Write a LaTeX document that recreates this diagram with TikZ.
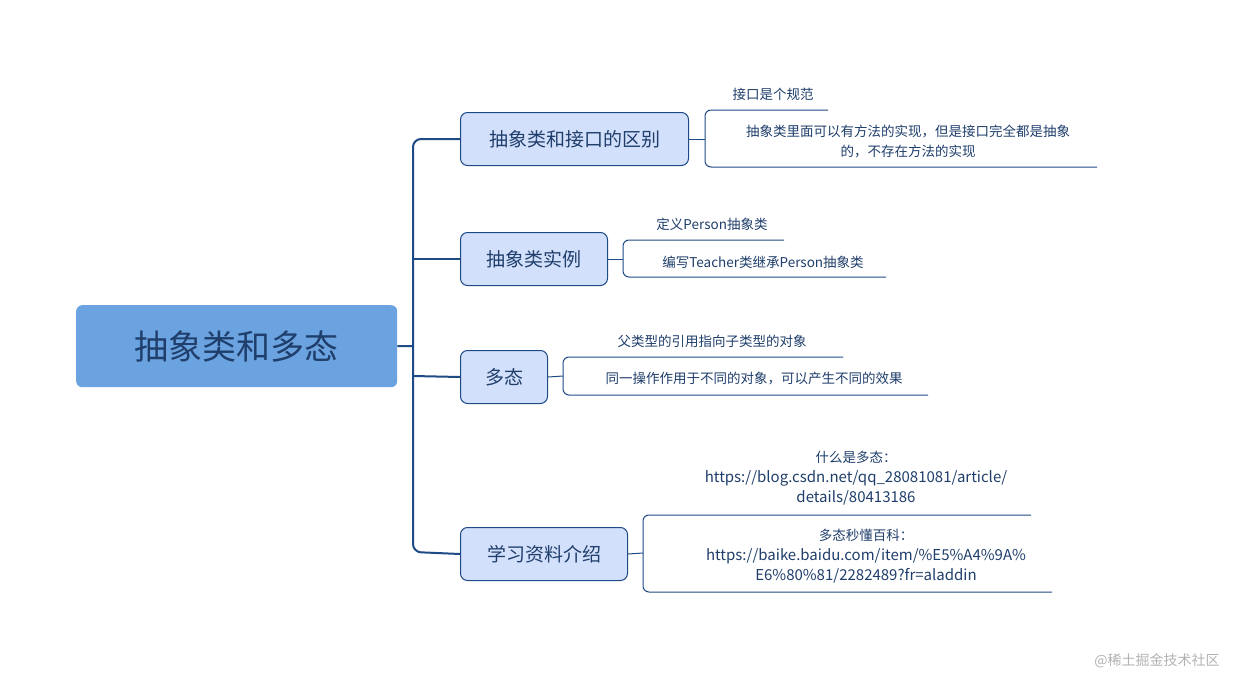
\documentclass[tikz,border=0pt]{standalone}
\usepackage{fontspec}
\setmainfont{Noto Sans CJK SC}
\begin{document}
\begin{tikzpicture}[x=1pt,y=-1pt,
  line/.style={draw=edge,line width=2pt,rounded corners=8pt},
  thin/.style={draw=edge,line width=1pt,rounded corners=6pt},
  topic/.style={draw=edge,line width=1pt,fill=boxfill,rounded corners=7pt,text=txt,font=\fontsize{19}{22}\selectfont,anchor=north west},
  leaf/.style={text=txt,font=\fontsize{13.5}{20}\selectfont,align=center,inner sep=0pt}]
\definecolor{edge}{HTML}{1E4A86}
\definecolor{boxfill}{HTML}{D3E0FB}
\definecolor{txt}{HTML}{1F3E6B}
\definecolor{rootfill}{HTML}{6AA3E0}
\useasboundingbox (0,0) rectangle (1243,677);
\node[fill=rootfill,rounded corners=6pt,minimum width=321pt,minimum height=82pt,anchor=north west,inner sep=0pt,text=txt,font=\fontsize{34}{40}\selectfont] (root) at (76,305) {抽象类和多态};
\node[topic,minimum width=228pt,minimum height=53pt] (b1) at (460,112) {抽象类和接口的区别};
\node[topic,minimum width=147pt,minimum height=53pt] (b2) at (460,232) {抽象类实例};
\node[topic,minimum width=87pt,minimum height=53pt] (b3) at (460,350) {多态};
\node[topic,minimum width=167pt,minimum height=53pt] (b4) at (460,527) {学习资料介绍};
\coordinate (j) at (413,346);
\draw[line] (root.east) -- (j);
\draw[line] (b1.west) -- (413,139) -- (413,552) -- (b4.west);
\draw[line] (413,259) -- (b2.west);
\draw[line] (413,376) -- (b3.west);
% leaves
\node[leaf] (l1) at (773,94) {接口是个规范};
\node[leaf] (l2) at (908,141) {抽象类里面可以有方法的实现，但是接口完全都是抽象\\的，不存在方法的实现};
\node[leaf] (l3) at (712,224) {定义Person抽象类};
\node[leaf] (l4) at (763,262) {编写Teacher类继承Person抽象类};
\node[leaf] (l5) at (712,341) {父类型的引用指向子类型的对象};
\node[leaf] (l6) at (754,379) {同一操作作用于不同的对象，可以产生不同的效果};
\node[leaf,font=\fontsize{15}{20}\selectfont] (l7) at (856,478) {\fontsize{13.5}{20}\selectfont 什么是多态：\\https://blog.csdn.net/qq\_28081081/article/\\details/80413186};
\node[leaf,font=\fontsize{15}{20}\selectfont] (l8) at (866,556) {\fontsize{13.5}{20}\selectfont 多态秒懂百科：\\https://baike.baidu.com/item/\%E5\%A4\%9A\%\\E6\%80\%81/2282489?fr=aladdin};
% brackets
\draw[thin] (b1.east) -- (705,139);
\draw[thin] (828,110) -- (705,110) -- (705,167) -- (1097,167);
\draw[thin] (b2.east) -- (623,259);
\draw[thin] (784,240) -- (623,240) -- (623,277) -- (886,277);
\draw[thin] (b3.east) -- (563,376);
\draw[thin] (843,357) -- (563,357) -- (563,395) -- (928,395);
\draw[thin] (b4.east) -- (643,553);
\draw[thin] (1031,515) -- (643,515) -- (643,592) -- (1052,592);
\node[text=gray!60,font=\fontsize{14}{16}\selectfont] (wm) at (1157,661) {@稀土掘金技术社区};
\end{tikzpicture}
\end{document}
